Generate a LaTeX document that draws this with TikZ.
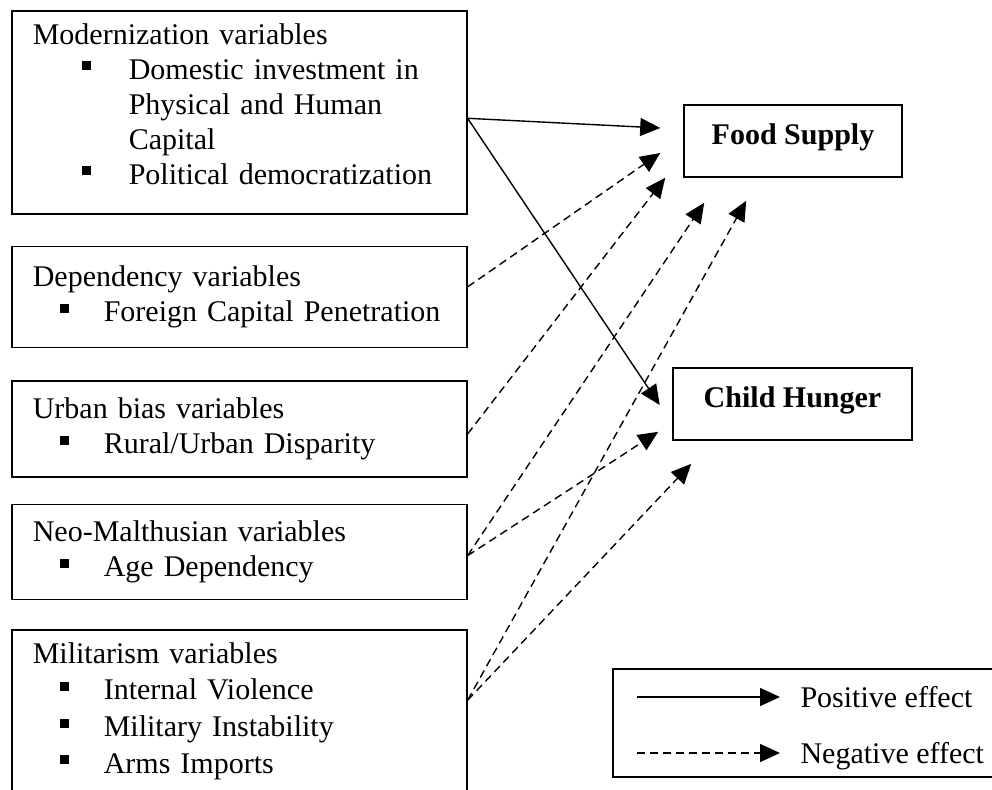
\documentclass[tikz,border=0pt]{standalone}
\usepackage{fontspec}
\setmainfont{Liberation Serif}
\usetikzlibrary{arrows.meta,positioning}
\newcommand{\bigtext}{\fontsize{30pt}{35pt}\selectfont}
\newcommand{\sqb}{\raisebox{9pt}{\rule{9pt}{9pt}}}
\newcommand{\itm}[1]{\hspace*{27pt}\sqb\hspace*{35pt}#1}

\begin{document}
\begin{tikzpicture}[
  x=1pt,y=-1pt,
  varbox/.style={rectangle,draw,line width=1.6pt,minimum width=455pt,text width=413pt,align=left,inner xsep=21pt,inner ysep=0pt,font=\bigtext},
  outcome/.style={rectangle,draw,line width=1.6pt,minimum height=72pt,text height=15pt,text depth=9pt,font=\bigtext\bfseries},
  legtxt/.style={anchor=west,text height=24pt,text depth=4pt,font=\bigtext},
  posarr/.style={-{Triangle[length=20pt,width=18pt]},line width=1.4pt},
  negarr/.style={posarr,dash pattern=on 8pt off 5pt}
]
  \clip (0,0) rectangle (992,789);
  % groups of explanatory variables
  \node[varbox,minimum height=203pt,anchor=north west] (modern) at (11,10) {Modernization variables\\
    \hspace*{49pt}\sqb\hspace*{38pt}Domestic investment in\\
    \hspace*{96pt}Physical and Human\\
    \hspace*{96pt}Capital\\
    \hspace*{49pt}\sqb\hspace*{38pt}Political democratization\\[-18pt]\rule{0pt}{0pt}};
  \node[varbox,minimum height=101pt,below=31pt of modern.south west,anchor=north west] (depend) {Dependency variables\\ \itm{Foreign Capital Penetration}};
  \node[varbox,minimum height=96pt,below=32pt of depend.south west,anchor=north west] (urban) {Urban bias variables\\ \itm{Rural/Urban Disparity}};
  \node[varbox,minimum height=95pt,below=26pt of urban.south west,anchor=north west] (neo) {Neo-Malthusian variables\\ \itm{Age Dependency}};
  \node[varbox,minimum height=170pt,font=\fontsize{30pt}{36.7pt}\selectfont,below=29pt of neo.south west,anchor=north west] (milit) {Militarism variables\\ \itm{Internal Violence}\\ \itm{Military Instability}\\ \itm{Arms Imports}\\[-22pt]\rule{0pt}{0pt}};
  % outcomes
  \node[outcome,minimum width=218pt] (food) at (793,141) {Food Supply};
  \node[outcome,minimum width=239pt] (hunger) at (792.5,404) {Child Hunger};
  % effects
  \draw[posarr] ([yshift=-6pt]modern.east) -- ([xshift=-23pt,yshift=13pt]food.west);
  \draw[posarr] ([yshift=-6pt]modern.east) -- ([xshift=-12.5pt,yshift=-1pt]hunger.west);
  \draw[negarr] ([yshift=10pt]depend.east) -- ([xshift=-23pt,yshift=-12pt]food.west);
  \draw[negarr] ([yshift=-5pt]urban.east) -- ([xshift=-18pt]food.south west);
  \draw[negarr] ([yshift=-3.5pt]neo.east) -- ([xshift=21pt,yshift=-25pt]food.south west);
  \draw[negarr] ([yshift=-3.5pt]neo.east) -- ([xshift=-14pt,yshift=9pt]hunger.south west);
  \draw[negarr] ([yshift=15pt]milit.east) -- ([xshift=63pt,yshift=-23pt]food.south west);
  \draw[negarr] ([yshift=15pt]milit.east) -- ([xshift=19pt,yshift=-23pt]hunger.south west);
  % legend
  \node[rectangle,draw,line width=1.6pt,minimum width=400pt,minimum height=108pt,anchor=north west] (legend) at (612,668) {};
  \node[legtxt] (postxt) at (797,697) {Positive effect};
  \node[legtxt] (negtxt) at (797,753) {Negative effect};
  \draw[posarr] ([xshift=-160pt]postxt.west) -- ([xshift=-17pt]postxt.west);
  \draw[negarr] ([xshift=-160pt]negtxt.west) -- ([xshift=-17pt]negtxt.west);
\end{tikzpicture}
\end{document}
